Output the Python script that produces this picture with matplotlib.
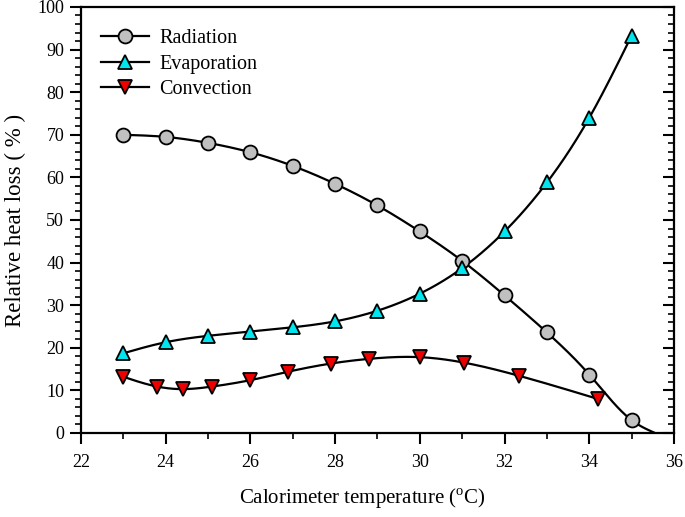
import numpy as np
import matplotlib
matplotlib.use("Agg")
import matplotlib.pyplot as plt
from matplotlib.ticker import MultipleLocator

plt.rcParams['font.family'] = ['Liberation Serif', 'DejaVu Serif']
plt.rcParams['mathtext.fontset'] = 'custom'
plt.rcParams['mathtext.rm'] = 'Liberation Serif'

# Data
rad_x = [23, 24, 25, 26, 27, 28, 29, 30, 31, 32, 33, 34, 35]
rad_y = [70.0, 69.5, 68.1, 65.9, 62.7, 58.5, 53.4, 47.3, 40.4, 32.3, 23.6, 13.7, 3.0]
rad_tail_x = 35.55   # curve continues to the axis
rad_tail_y = 0.0

evap_x = [23, 24, 25, 26, 27, 28, 29, 30, 31, 32, 33, 34, 35]
evap_y = [18.7, 21.3, 22.8, 23.8, 24.8, 26.2, 28.7, 32.7, 38.7, 47.3, 58.8, 74.0, 93.3]

conv_x = [23.0, 23.8, 24.4, 25.1, 26.0, 26.9, 27.9, 28.8, 30.0, 31.05, 32.35, 34.2]
conv_y = [13.2, 10.9, 10.3, 10.9, 12.4, 14.4, 16.3, 17.4, 17.8, 16.5, 13.4, 8.0]


def natural_spline(x, y, n=400):
    x = np.asarray(x, float)
    y = np.asarray(y, float)
    m = len(x)
    h = np.diff(x)
    A = np.zeros((m, m))
    b = np.zeros(m)
    A[0, 0] = 1
    A[-1, -1] = 1
    for i in range(1, m - 1):
        A[i, i - 1] = h[i - 1]
        A[i, i] = 2 * (h[i - 1] + h[i])
        A[i, i + 1] = h[i]
        b[i] = 6 * ((y[i + 1] - y[i]) / h[i] - (y[i] - y[i - 1]) / h[i - 1])
    M = np.linalg.solve(A, b)
    xs = np.linspace(x[0], x[-1], n)
    idx = np.clip(np.searchsorted(x, xs) - 1, 0, m - 2)
    x0, x1 = x[idx], x[idx + 1]
    hh = x1 - x0
    t0 = x1 - xs
    t1 = xs - x0
    ys = (M[idx] * t0 ** 3 / (6 * hh) + M[idx + 1] * t1 ** 3 / (6 * hh)
          + (y[idx] / hh - M[idx] * hh / 6) * t0
          + (y[idx + 1] / hh - M[idx + 1] * hh / 6) * t1)
    return xs, ys


fig = plt.figure(figsize=(6.85, 5.17), dpi=100)
ax = fig.add_axes([0.118, 0.1625, 0.866, 0.824])

lw = 1.6
mew = 1.3
ms = 10

# curves
cx, cy = natural_spline(rad_x + [rad_tail_x], rad_y + [rad_tail_y])
ax.plot(cx, cy, color='black', lw=lw, zorder=2)
cx, cy = natural_spline(evap_x, evap_y)
ax.plot(cx, cy, color='black', lw=lw, zorder=2)
cx, cy = natural_spline(conv_x, conv_y)
ax.plot(cx, cy, color='black', lw=lw, zorder=2)

# markers
ax.plot(rad_x, rad_y, ls='none', marker='o', ms=ms, mfc='#c0c0c0', mec='black', mew=mew, zorder=3)
ax.plot(evap_x, evap_y, ls='none', marker='^', ms=ms, mfc='#00e5ee', mec='black', mew=mew, zorder=3)
ax.plot(conv_x, conv_y, ls='none', marker='v', ms=ms, mfc='#ee0000', mec='black', mew=mew, zorder=3)

# legend proxies
h1, = ax.plot([], [], color='black', lw=lw, marker='o', ms=ms, mfc='#c0c0c0', mec='black', mew=mew)
h2, = ax.plot([], [], color='black', lw=lw, marker='^', ms=ms, mfc='#00e5ee', mec='black', mew=mew)
h3, = ax.plot([], [], color='black', lw=lw, marker='v', ms=ms, mfc='#ee0000', mec='black', mew=mew)
leg = ax.legend([h1, h2, h3], ['Radiation', 'Evaporation', 'Convection'],
                loc='upper left', bbox_to_anchor=(0.003, 0.99), frameon=False,
                fontsize=14.5, handlelength=2.4, handletextpad=0.5, labelspacing=0.3)

ax.set_xlim(22, 36)
ax.set_ylim(0, 100)
ax.xaxis.set_major_locator(MultipleLocator(2))
ax.xaxis.set_minor_locator(MultipleLocator(1))
ax.yaxis.set_major_locator(MultipleLocator(10))
ax.yaxis.set_minor_locator(MultipleLocator(2))

for s in ax.spines.values():
    s.set_linewidth(1.6)

ax.tick_params(axis='both', which='major', direction='out', length=8, width=1.5, labelsize=13)
ax.tick_params(axis='both', which='minor', direction='out', length=4, width=1.2)
ax.tick_params(axis='x', which='both', top=False, pad=7)
ax.tick_params(axis='y', which='both', right=False, pad=4)

# right-side inward ticks
ax2 = ax.twinx()
ax2.set_ylim(0, 100)
ax2.yaxis.set_major_locator(MultipleLocator(10))
ax2.yaxis.set_minor_locator(MultipleLocator(2))
ax2.tick_params(axis='y', which='major', direction='in', length=8, width=1.5, labelright=False)
ax2.tick_params(axis='y', which='minor', direction='in', length=4, width=1.2)
for s in ax2.spines.values():
    s.set_visible(False)

ax.set_xlabel(r'Calorimeter temperature ($^{\mathrm{o}}$C)', fontsize=15)
ax.xaxis.set_label_coords(0.475, -0.127)
ax.set_ylabel('Relative heat loss ( % )', fontsize=16.5, labelpad=8)

fig.savefig('out.png', dpi=100)
